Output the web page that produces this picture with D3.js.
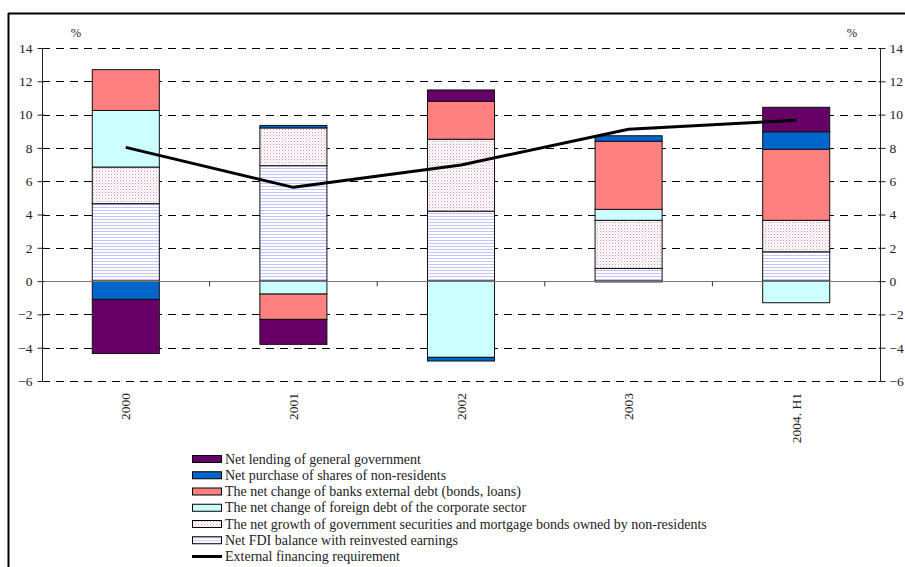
<!DOCTYPE html>
<html>
<head>
<meta charset="utf-8">
<script src="https://cdn.jsdelivr.net/npm/d3@7"></script>
<style>
  html, body { margin: 0; padding: 0; background: #fff; }
  svg { display: block; }
  text { font-family: "Liberation Serif", "DejaVu Serif", serif; fill: #222; }
</style>
</head>
<body>
<svg id="chart" width="905" height="567"></svg>
<script>
// Periods on the horizontal axis
const categories = ["2000", "2001", "2002", "2003", "2004. H1"];

// Components of external financing, % of GDP (stacked in this order, bottom up)
const netFDI        = [4.65, 6.93, 4.20, 0.76, 1.76];
const govSecurities = [2.20, 2.27, 4.32, 2.89, 1.89];
const corporateDebt = [3.40, -0.78, -4.58, 0.66, -1.30];
const bankDebt      = [2.45, -1.52, 2.28, 4.09, 4.27];
const sharePurchase = [-1.10, 0.15, -0.22, 0.33, 1.05];
const netLending    = [-3.25, -1.50, 0.68, -0.05, 1.47];

// External financing requirement (line)
const financingReq  = [8.03, 5.63, 6.97, 9.12, 9.66];

// Axis ticks
const yTicks = [-6, -4, -2, 0, 2, 4, 6, 8, 10, 12, 14];

const seriesNames = {
  fdi: "Net FDI balance with reinvested earnings",
  sec: "The net growth of government securities and mortgage bonds owned by non-residents",
  corp: "The net change of foreign debt of the corporate sector",
  bank: "The net change of banks external debt (bonds, loans)",
  shares: "Net purchase of shares of non-residents",
  lend: "Net lending of general government"
};
const lineName = "External financing requirement";

const keys = ["fdi", "sec", "corp", "bank", "shares", "lend"];
const valuesByKey = {
  fdi: netFDI, sec: govSecurities, corp: corporateDebt,
  bank: bankDebt, shares: sharePurchase, lend: netLending
};
const rows = categories.map((c, i) => {
  const r = { cat: c };
  keys.forEach(k => r[k] = valuesByKey[k][i]);
  return r;
});

const svg = d3.select("#chart");
const defs = svg.append("defs");

// Dotted fill for government securities
const pSec = defs.append("pattern").attr("id", "pat-sec")
  .attr("patternUnits", "userSpaceOnUse").attr("width", 3).attr("height", 3);
pSec.append("rect").attr("width", 3).attr("height", 3).attr("fill", "#fff");
pSec.append("rect").attr("x", 0).attr("y", 0).attr("width", 1).attr("height", 1).attr("fill", "#dc98aa");
pSec.append("rect").attr("x", 1.5).attr("y", 1.5).attr("width", 1).attr("height", 1).attr("fill", "#e8bcc8");

// Horizontal-line fill for FDI
const pFdi = defs.append("pattern").attr("id", "pat-fdi")
  .attr("patternUnits", "userSpaceOnUse").attr("width", 4).attr("height", 3);
pFdi.append("rect").attr("width", 4).attr("height", 3).attr("fill", "#fff");
pFdi.append("rect").attr("y", 0).attr("width", 4).attr("height", 1).attr("fill", "#c4c4ff");

const fills = {
  fdi: "url(#pat-fdi)",
  sec: "url(#pat-sec)",
  corp: "#ccffff",
  bank: "#ff8080",
  shares: "#0066cc",
  lend: "#660066"
};

// Outer frame
svg.append("line").attr("x1", 8).attr("x2", 905).attr("y1", 13.5).attr("y2", 13.5)
  .attr("stroke", "#000").attr("stroke-width", 2);
svg.append("line").attr("x1", 8.5).attr("x2", 8.5).attr("y1", 13).attr("y2", 567)
  .attr("stroke", "#000").attr("stroke-width", 2);

const plotLeft = 42, plotRight = 880, plotTop = 48, plotBottom = 381;

const y = d3.scaleLinear().domain([-6, 14]).range([plotBottom, plotTop]);
const x = d3.scaleBand().domain(categories).range([plotLeft, plotRight])
  .paddingInner(0.6).paddingOuter(0.3);
const xStep = d3.scaleBand().domain(categories).range([plotLeft, plotRight]).padding(0);

// Dashed gridlines
svg.append("g").selectAll("line")
  .data(yTicks.filter(t => t !== 0))
  .join("line")
  .attr("x1", plotLeft).attr("x2", plotRight)
  .attr("y1", d => Math.round(y(d)) + 0.5).attr("y2", d => Math.round(y(d)) + 0.5)
  .attr("stroke", "#000").attr("stroke-width", 1)
  .attr("stroke-dasharray", "8,6");

// Stacked bars
const stack = d3.stack().keys(keys).offset(d3.stackOffsetDiverging);
const layers = stack(rows);

svg.append("g").selectAll("g")
  .data(layers)
  .join("g")
  .attr("fill", d => fills[d.key])
  .selectAll("rect")
  .data(d => d.filter(s => s[1] !== s[0]))
  .join("rect")
  .attr("x", d => x(d.data.cat))
  .attr("width", x.bandwidth())
  .attr("y", d => y(Math.max(d[0], d[1])))
  .attr("height", d => Math.abs(y(d[0]) - y(d[1])))
  .attr("stroke", "#111")
  .attr("stroke-width", 1);

// Zero line with category separator ticks
const zeroY = Math.round(y(0)) + 0.5;
svg.append("line").attr("x1", plotLeft).attr("x2", plotRight).attr("y1", zeroY).attr("y2", zeroY)
  .attr("stroke", "#777").attr("stroke-width", 1.2);
svg.append("g").selectAll("line")
  .data(categories.slice(1))
  .join("line")
  .attr("x1", d => xStep(d)).attr("x2", d => xStep(d))
  .attr("y1", zeroY).attr("y2", zeroY + 5)
  .attr("stroke", "#333");

// Left and right value axes
const yLeft = d3.axisLeft(y).tickValues(yTicks).tickSize(5).tickPadding(5);
const gL = svg.append("g").attr("transform", `translate(${plotLeft + 0.5},0)`).call(yLeft);
const yRight = d3.axisRight(y).tickValues(yTicks).tickSize(5).tickPadding(4);
const gR = svg.append("g").attr("transform", `translate(${plotRight + 0.5},0)`).call(yRight);
[gL, gR].forEach(g => {
  g.attr("font-family", null);
  g.select(".domain").remove();
  g.selectAll(".tick line").attr("stroke", "#222").attr("x1", g === gL ? 2 : -2);
  g.selectAll("text").attr("font-size", 13.5).attr("fill", "#333");
});
// axis spines
svg.append("line").attr("x1", plotLeft + 0.5).attr("x2", plotLeft + 0.5)
  .attr("y1", plotTop).attr("y2", plotBottom).attr("stroke", "#222");
svg.append("line").attr("x1", plotRight + 0.5).attr("x2", plotRight + 0.5)
  .attr("y1", plotTop).attr("y2", plotBottom).attr("stroke", "#222");

// Unit labels
svg.append("text").attr("x", 76).attr("y", 37).attr("text-anchor", "middle")
  .attr("font-size", 12.5).attr("fill", "#444").text("%");
svg.append("text").attr("x", 852).attr("y", 37).attr("text-anchor", "middle")
  .attr("font-size", 12.5).attr("fill", "#444").text("%");

// Category labels, rotated
svg.append("g").selectAll("text")
  .data(categories)
  .join("text")
  .attr("transform", d => `translate(${x(d) + x.bandwidth() / 2 + 4.5},393) rotate(-90)`)
  .attr("text-anchor", "end")
  .attr("font-size", 13.5)
  .attr("fill", "#222")
  .text(d => d);

// Financing requirement line
const line = d3.line()
  .x((d, i) => x(categories[i]) + x.bandwidth() / 2)
  .y(d => y(d));
svg.append("path").datum(financingReq)
  .attr("d", line).attr("fill", "none")
  .attr("stroke", "#000").attr("stroke-width", 3).attr("stroke-linejoin", "round");

// Legend
const legendKeys = keys.slice().reverse();
const lg = svg.append("g").attr("transform", "translate(192,459)");
const rowH = 16.25;
legendKeys.forEach((k, i) => {
  const g = lg.append("g").attr("transform", `translate(0,${i * rowH})`);
  g.append("rect").attr("x", 0.5).attr("y", -3.5).attr("width", 29).attr("height", 7)
    .attr("fill", fills[k]).attr("stroke", "#000").attr("stroke-width", 1);
  g.append("text").attr("x", 33).attr("y", 4.5).attr("font-size", 14).text(seriesNames[k]);
});
const lgl = lg.append("g").attr("transform", `translate(0,${6 * rowH})`);
lgl.append("line").attr("x1", 0).attr("x2", 30).attr("y1", 0).attr("y2", 0)
  .attr("stroke", "#000").attr("stroke-width", 3);
lgl.append("text").attr("x", 33).attr("y", 4.5).attr("font-size", 14).text(lineName);
</script>
</body>
</html>
